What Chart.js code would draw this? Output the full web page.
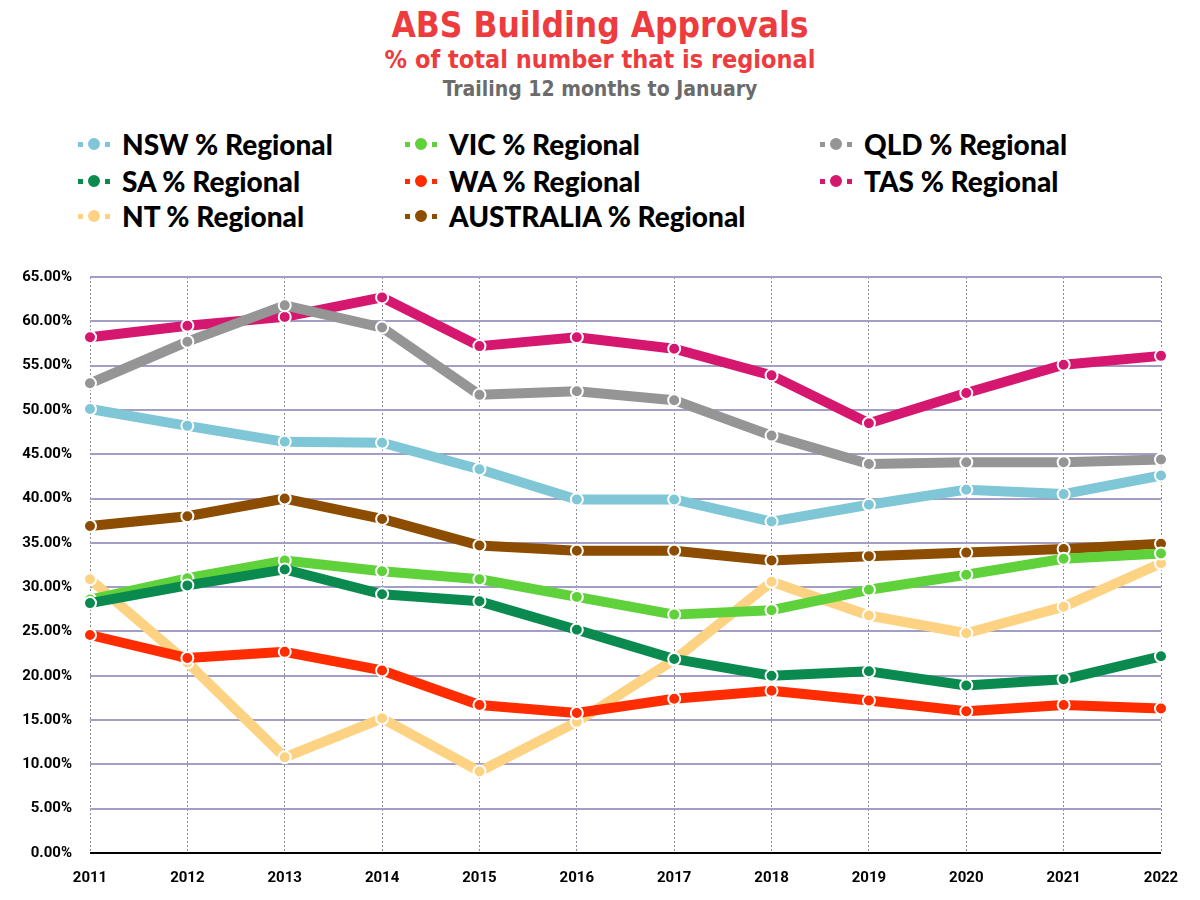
<!DOCTYPE html>
<html>
<head>
<meta charset="utf-8">
<script src="https://cdn.jsdelivr.net/npm/chart.js@4.4.1/dist/chart.umd.min.js"></script>
<style>
  body { margin: 0; background: #fff; }
  #wrap { position: relative; width: 1200px; height: 900px; overflow: hidden; }
  .t { position: absolute; left: 0; width: 1200px; text-align: center; font-family: "DejaVu Sans Condensed", "Liberation Sans Narrow", sans-serif; font-weight: bold; }
  #legend { position: absolute; left: 0; top: 125px; width: 1200px; height: 120px; }
  .item { position: absolute; display: flex; align-items: center; height: 38px;
          font-family: Lato, "Open Sans", sans-serif; font-weight: 900; font-size: 28px; color: #000; white-space: nowrap; }
  .icon { position: relative; width: 32px; height: 16px; margin-right: 12px; }
  .icon .stub { position: absolute; top: 6px; width: 5px; height: 5px; }
  .icon .dot { position: absolute; left: 8px; top: 0px; width: 12px; height: 12px; border-radius: 50%; border: 2px solid #fff; }
  #chartBox { position: absolute; left: 0; top: 250px; width: 1200px; height: 650px; }
</style>
</head>
<body>
<div id="wrap">
  <div class="t" style="top:5px;font-size:35px;color:#ee3b3e;">ABS Building Approvals</div>
  <div class="t" style="top:45px;font-size:25px;color:#ee3b3e;">% of total number that is regional</div>
  <div class="t" style="top:77px;font-size:21px;color:#6b6b6b;">Trailing 12 months to January</div>
  <div id="legend"></div>
  <div id="chartBox"><canvas id="chart"></canvas></div>
</div>
<script>
const years = ['2011','2012','2013','2014','2015','2016','2017','2018','2019','2020','2021','2022'];

const nsw = [50.1, 48.2, 46.4, 46.3, 43.3, 39.9, 39.9, 37.4, 39.3, 41.0, 40.5, 42.6];
const vic = [28.6, 31.0, 33.0, 31.8, 30.9, 28.9, 26.9, 27.4, 29.7, 31.4, 33.2, 33.8];
const qld = [53.0, 57.7, 61.8, 59.3, 51.7, 52.1, 51.1, 47.1, 43.9, 44.1, 44.1, 44.4];
const sa  = [28.2, 30.2, 32.0, 29.2, 28.4, 25.2, 21.9, 20.0, 20.5, 18.9, 19.6, 22.2];
const wa  = [24.6, 22.0, 22.7, 20.6, 16.7, 15.8, 17.4, 18.3, 17.2, 16.0, 16.7, 16.3];
const tas = [58.2, 59.5, 60.5, 62.7, 57.2, 58.2, 56.9, 53.9, 48.5, 51.9, 55.1, 56.1];
const nt  = [30.9, 21.5, 10.8, 15.2, 9.2, 14.8, 21.8, 30.6, 26.8, 24.8, 27.8, 32.7];
const aus = [36.9, 38.0, 40.0, 37.7, 34.7, 34.1, 34.1, 33.0, 33.5, 33.9, 34.3, 34.9];

const yTicks = [0, 5, 10, 15, 20, 25, 30, 35, 40, 45, 50, 55, 60, 65];

// name, values, colour, draw order (lower = on top), legend column/row
const series = [
  ['NSW % Regional', nsw, '#7fc6d6', 5, 0, 0],
  ['VIC % Regional', vic, '#5fd13b', 3, 1, 0],
  ['QLD % Regional', qld, '#959595', 6, 2, 0],
  ['SA % Regional', sa, '#0b8a50', 2, 0, 1],
  ['WA % Regional', wa, '#ff2c00', 1, 1, 1],
  ['TAS % Regional', tas, '#d5176f', 7, 2, 1],
  ['NT % Regional', nt, '#fdd283', 8, 0, 2],
  ['AUSTRALIA % Regional', aus, '#8c4d00', 4, 1, 2]
];

// html legend in three columns
const colX = [78, 405, 820];
const rowY = [0, 37, 72];
const legend = document.getElementById('legend');
series.forEach(s => {
  const el = document.createElement('div');
  el.className = 'item';
  el.style.left = colX[s[4]] + 'px';
  el.style.top = rowY[s[5]] + 'px';
  el.innerHTML = `<span class="icon"><span class="stub" style="left:0;background:${s[2]}"></span>` +
    `<span class="dot" style="background:${s[2]}"></span>` +
    `<span class="stub" style="left:27px;background:${s[2]}"></span></span>${s[0]}`;
  legend.appendChild(el);
});

const tickFont = { family: 'Roboto, "Liberation Sans", sans-serif', weight: 'bold', size: 15 };

new Chart(document.getElementById('chart'), {
  type: 'line',
  data: {
    labels: years,
    datasets: series.map(s => ({
      label: s[0],
      data: s[1],
      borderColor: s[2],
      backgroundColor: s[2],
      pointBackgroundColor: s[2],
      pointBorderColor: '#ffffff',
      pointBorderWidth: 2,
      pointRadius: 6,
      borderWidth: 10,
      borderJoinStyle: 'round',
      tension: 0,
      order: s[3]
    }))
  },
  options: {
    responsive: true,
    maintainAspectRatio: false,
    animation: false,
    layout: { padding: { left: 2, right: 39, top: 27, bottom: 0 } },
    plugins: { legend: { display: false }, tooltip: { enabled: false } },
    scales: {
      x: {
        grid: { color: '#8a8a99', lineWidth: 1, drawTicks: false },
        border: { display: false, dash: [2, 2] },
        ticks: { color: '#000', font: tickFont, padding: 16, maxRotation: 0 },
        afterFit: s => { s.height = 47; }
      },
      y: {
        min: 0,
        max: 65,
        afterBuildTicks: s => { s.ticks = yTicks.map(v => ({ value: v })); },
        grid: {
          color: c => c.tick && c.tick.value === 0 ? '#000000' : '#a29ec6',
          lineWidth: 2,
          drawTicks: false
        },
        border: { display: false },
        ticks: { color: '#000', font: tickFont, padding: 18, callback: v => v.toFixed(2) + '%' },
        afterFit: s => { s.width = 88; }
      }
    }
  }
});
</script>
</body>
</html>
